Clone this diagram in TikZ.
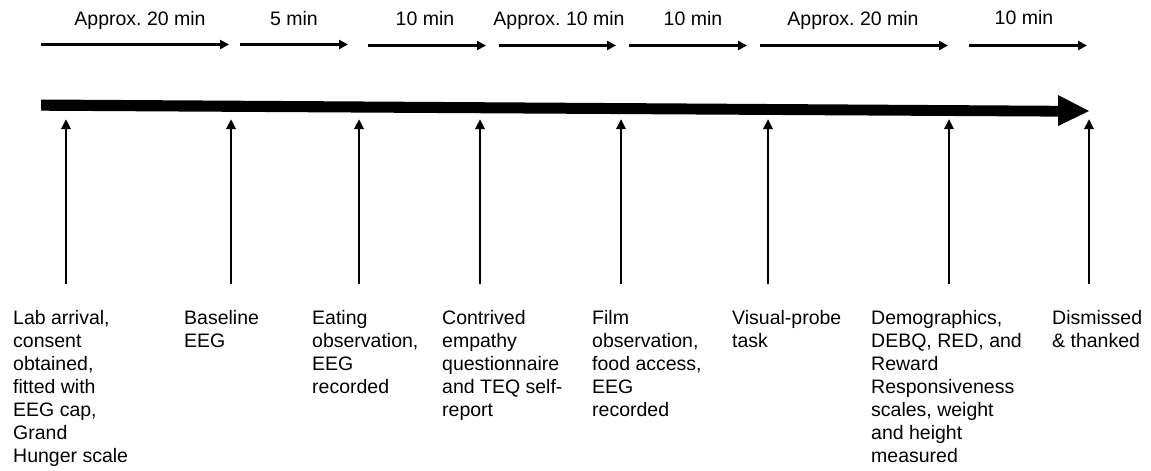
\documentclass[tikz,border=0pt]{standalone}
\usepackage{fontspec}
\setmainfont{Liberation Sans}
\usetikzlibrary{arrows.meta}
\frenchspacing
\begin{document}
\begin{tikzpicture}[x=1pt,y=-1pt,
  txt/.style={anchor=north west,inner sep=0pt,align=left,
    font=\fontsize{19.5}{23}\selectfont},
  durlabel/.style={anchor=base,inner sep=0pt,font=\fontsize{19.5}{23}\selectfont},
  span/.style={line width=2.4pt,-{Triangle[length=9pt,width=9pt]}},
  tick/.style={line width=2.6pt,-{Triangle[length=10pt,width=9pt]}}]
\useasboundingbox (0,0) rectangle (1151,471);

% duration arrows along the top
\coordinate (s1a) at (41,44.5);  \coordinate (s1b) at (229,44.5);
\coordinate (s2a) at (240,44.5); \coordinate (s2b) at (348,44.5);
\coordinate (s3a) at (368,45.5); \coordinate (s3b) at (486,45.5);
\coordinate (s4a) at (499,45.5); \coordinate (s4b) at (616,45.5);
\coordinate (s5a) at (629,45.5); \coordinate (s5b) at (747,45.5);
\coordinate (s6a) at (760,45.5); \coordinate (s6b) at (948,45.5);
\coordinate (s7a) at (969,45.5); \coordinate (s7b) at (1087,45.5);
\foreach \i in {1,...,7} \draw[span] (s\i a) -- (s\i b);

\node[durlabel] (d1) at (140,25) {Approx. 20 min};
\node[durlabel] (d2) at (294,25) {5 min};
\node[durlabel] (d3) at (425,25) {10 min};
\node[durlabel] (d4) at (559,25) {Approx. 10 min};
\node[durlabel] (d5) at (693,25) {10 min};
\node[durlabel] (d6) at (853,25) {Approx. 20 min};
\node[durlabel] (d7) at (1024,24.5) {10 min};

% main timeline arrow
\fill (41,99.5) -- (1058,105.8) -- (1058,95) -- (1089,111) -- (1058,126)
  -- (1058,116.6) -- (41,110.7) -- cycle;

% event descriptions (first baseline at y=324)
\def\ty{307.9}
\node[txt] (e1) at (13,\ty) {\strut Lab arrival,\\consent\\obtained,\\fitted with\\EEG cap,\\Grand\\Hunger scale};
\node[txt] (e2) at (184,\ty) {\strut Baseline\\EEG};
\node[txt] (e3) at (312,\ty) {\strut Eating\\observation,\\EEG\\recorded};
\node[txt] (e4) at (442,\ty) {\strut Contrived\\empathy\\questionnaire\\and TEQ self-\\report};
\node[txt] (e5) at (592,\ty) {\strut Film\\observation,\\food access,\\EEG\\recorded};
\node[txt] (e6) at (732,\ty) {\strut Visual-probe\\task};
\node[txt] (e7) at (871,\ty) {\strut Demographics,\\DEBQ, RED, and\\Reward\\Responsiveness\\scales, weight\\and height\\measured};
\node[txt] (e8) at (1052,\ty) {\strut Dismissed\\\& thanked};

% event markers pointing up to the timeline
\foreach \n/\x in {1/66,2/231,3/359,4/480,5/621,6/768,7/949,8/1089}{
  \coordinate (b\n) at (\x,284);
  \coordinate (t\n) at (\x,119);
  \draw[tick] (b\n) -- (t\n);
}
\end{tikzpicture}
\end{document}
